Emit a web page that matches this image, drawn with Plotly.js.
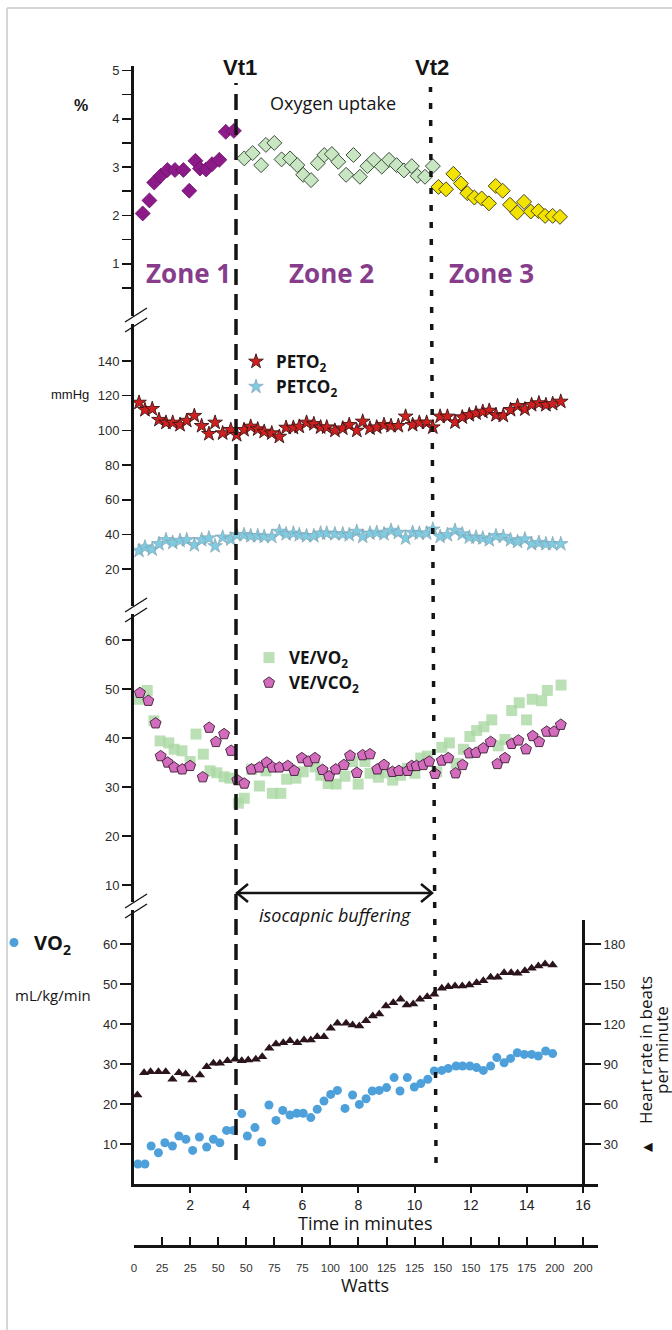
<!DOCTYPE html>
<html><head><meta charset="utf-8">
<script src="https://cdn.plot.ly/plotly-3.0.1.min.js"></script>
<style>html,body{margin:0;padding:0;background:#fff;overflow:hidden}#chart{width:672px;height:1330px}</style>
</head><body><div id="chart"></div>
<script>
// ---------- DATA ----------
// Panel 1: oxygen uptake (%) by zone
const zone1Time = [0.31,0.55,0.72,0.95,1.19,1.46,1.76,1.97,2.19,2.35,2.57,2.78,3.04,3.27,3.56];
const zone1O2   = [2.04,2.31,2.68,2.82,2.94,2.94,2.94,2.51,3.13,2.97,2.95,3.06,3.15,3.73,3.75];
const zone2Time = [3.93,4.23,4.53,4.70,5.00,5.26,5.56,5.82,6.03,6.31,6.55,6.78,7.05,7.28,7.56,7.82,8.05,8.32,8.55,8.83,9.09,9.36,9.62,9.90,10.10,10.37,10.65];
const zone2O2   = [3.18,3.29,3.04,3.46,3.50,3.16,3.18,3.04,2.84,2.73,3.08,3.25,3.27,3.11,2.84,3.25,2.80,3.02,3.15,3.01,3.15,3.04,2.93,3.02,2.82,2.80,3.02];
const zone3Time = [10.85,11.12,11.38,11.65,11.88,12.13,12.39,12.65,12.89,13.14,13.40,13.66,13.90,14.14,14.41,14.65,14.92,15.18];
const zone3O2   = [2.59,2.54,2.86,2.66,2.46,2.37,2.35,2.25,2.61,2.51,2.22,2.06,2.28,2.08,2.09,1.99,1.99,1.97];

// Panel 2: end-tidal pressures (mmHg)
const petTime = [0.18,0.39,0.65,0.89,1.14,1.38,1.64,1.88,2.15,2.41,2.67,2.89,3.16,3.45,3.66,3.92,4.16,4.41,4.64,4.91,5.18,5.42,5.68,5.89,6.15,6.41,6.65,6.87,7.16,7.44,7.67,7.94,8.15,8.41,8.65,8.91,9.16,9.42,9.68,9.93,10.17,10.43,10.65,10.91,11.17,11.44,11.70,11.95,12.19,12.43,12.66,12.90,13.16,13.42,13.67,13.93,14.17,14.43,14.68,14.92,15.21];
const petO2  = [116.0,111.8,112.4,106.1,104.5,104.5,103.2,105.6,108.4,102.6,98.0,104.5,98.4,100.3,97.4,100.3,102.2,100.7,99.3,98.4,96.4,101.6,101.6,102.2,104.5,103.7,101.8,101.8,99.9,101.2,103.2,99.9,105.1,101.2,101.8,103.2,102.6,102.6,108.0,103.2,104.5,104.5,101.8,108.0,108.0,104.7,107.6,108.9,109.9,110.8,111.4,108.9,108.5,111.8,114.1,112.2,114.7,115.7,114.7,115.3,116.6];
const petCO2 = [30.7,32.7,31.5,34.6,36.9,35.3,36.5,36.9,34.0,36.9,37.9,33.4,38.4,37.3,39.8,39.8,39.2,39.2,38.8,38.8,41.7,40.3,40.7,39.8,39.2,39.2,40.7,40.7,40.3,40.3,39.8,41.7,38.8,40.7,41.1,40.3,42.3,41.1,37.9,41.1,40.7,40.7,43.0,38.8,39.8,42.3,40.3,38.4,38.4,37.9,36.9,39.2,38.8,36.9,35.9,37.3,34.6,35.3,34.6,34.6,34.6];

// Panel 3: ventilatory equivalents
const veVo2Time = [0.19,0.47,0.71,0.93,1.24,1.43,1.71,2.00,2.21,2.47,2.71,2.95,3.21,3.42,3.72,3.93,4.19,4.47,4.70,4.93,5.23,5.44,5.77,6.03,6.45,6.66,6.92,7.20,7.52,7.79,7.99,8.23,8.41,8.71,8.94,9.22,9.50,9.74,10.01,10.22,10.45,10.79,10.97,11.24,11.48,11.74,11.97,12.21,12.47,12.75,12.98,13.22,13.46,13.73,13.99,14.19,14.53,14.73,15.22];
const veVo2 = [47.9,49.7,43.5,39.4,39.0,37.7,37.4,35.2,40.8,36.7,33.3,32.9,32.1,31.8,26.7,27.7,33.6,30.2,33.3,28.7,28.7,31.6,31.8,33.1,34.1,32.4,30.7,30.6,32.2,35.2,30.6,35.2,32.8,32.0,32.9,31.4,32.4,33.8,32.8,35.9,36.3,33.1,38.1,39.0,34.8,37.7,40.3,41.5,42.3,43.7,38.4,39.7,45.6,47.2,43.7,47.9,47.6,49.7,50.8];
const veVco2Time = [0.21,0.51,0.77,0.95,1.20,1.43,1.72,2.00,2.45,2.68,2.92,3.21,3.46,3.68,3.93,4.19,4.47,4.73,4.94,5.18,5.48,5.71,5.98,6.21,6.45,6.72,6.95,7.19,7.48,7.70,7.94,8.15,8.41,8.67,8.91,9.21,9.44,9.75,9.90,10.07,10.31,10.52,10.73,10.97,11.20,11.46,11.71,11.95,12.19,12.45,12.71,12.95,13.22,13.46,13.70,13.97,14.21,14.44,14.71,14.97,15.21];
const veVco2 = [49.2,47.6,43.0,36.3,35.0,34.0,33.6,34.3,32.0,42.1,39.2,40.8,37.4,31.4,30.7,33.6,34.0,35.0,34.0,34.0,34.3,33.3,35.9,35.2,35.9,33.5,32.2,33.6,34.5,36.4,32.9,36.5,36.7,33.6,34.5,33.1,33.3,33.3,34.3,34.3,34.5,35.2,32.7,35.4,35.9,32.8,34.5,36.9,37.0,37.9,39.2,34.7,35.9,38.8,39.5,37.7,40.4,39.2,41.3,41.3,42.7];

// Panel 4: VO2 (mL/kg/min) and heart rate (bpm)
const vo2Time = [0.14,0.39,0.61,0.87,1.10,1.37,1.60,1.85,2.09,2.33,2.59,2.83,3.06,3.30,3.54,3.84,4.04,4.31,4.55,4.81,5.06,5.30,5.56,5.80,6.03,6.30,6.53,6.77,7.01,7.25,7.52,7.79,8.03,8.27,8.49,8.74,9.00,9.27,9.48,9.74,9.99,10.22,10.47,10.70,10.97,11.20,11.48,11.71,11.97,12.21,12.45,12.71,12.93,13.19,13.42,13.66,13.91,14.17,14.41,14.67,14.92];
const vo2 = [5.0,5.0,9.5,7.8,10.3,9.5,12.0,11.2,8.4,11.75,9.25,11.2,10.3,13.4,13.4,17.6,12.0,14.1,10.5,19.75,15.9,18.4,17.25,17.7,17.7,16.6,18.7,20.75,22.4,23.4,18.9,22.25,19.9,21.3,23.25,23.4,24.1,26.6,23.25,26.6,24.25,25.1,26.2,28.25,28.4,28.9,29.5,29.5,29.5,29.1,28.4,29.5,31.6,30.3,31.4,32.8,32.4,32.4,32.0,33.25,32.6];
const hrTime = [0.12,0.36,0.59,0.87,1.13,1.37,1.60,1.84,2.08,2.35,2.59,2.83,3.06,3.33,3.60,3.84,4.07,4.34,4.57,4.82,5.06,5.32,5.56,5.82,6.06,6.30,6.53,6.77,7.01,7.25,7.56,7.79,8.03,8.27,8.51,8.74,8.98,9.24,9.50,9.72,9.95,10.19,10.45,10.70,10.97,11.20,11.44,11.70,11.95,12.21,12.45,12.71,12.96,13.19,13.44,13.67,13.93,14.17,14.41,14.65,14.92];
const hr = [66.75,83.5,84.2,84.2,84.2,78.5,83.5,82.5,78.0,81.75,88.0,90.5,90.5,92.5,93.5,92.5,93.0,93.5,95.5,101.8,105,106,107.5,106,108,108,110.5,110.5,116.8,120.5,120.5,119.3,118.5,122.5,126,127.5,133.5,136,138.5,134.3,135,138.5,140.5,142.3,146.8,148,148.5,148.5,149.3,151,152.5,155,155,158.5,158.5,158,160,161.75,163.5,165,164.3];

// Axis ticks
const timeTicks = [2,4,6,8,10,12,14,16];
const wattMinutes = [0,1,2,3,4,5,6,7,8,9,10,11,12,13,14,15,16];
const wattLabels = ["0","25","25","50","50","75","75","100","100","125","125","150","150","175","175","200","200"];
const pctTicks = [1,2,3,4,5];
const mmHgTicks = [20,40,60,80,100,120,140];
const veTicks = [10,20,30,40,50,60];
const vo2Ticks = [10,20,30,40,50,60];
const hrTicks = [30,60,90,120,150,180];
const vt1 = 3.635, vt2Top = 10.567, vt2Bottom = 10.763;

// ---------- LAYOUT HELPERS ----------
const W = 672, H = 1330;
const px = x => x / W;
const py = y => (H - y) / H;
const TICKFONT = {family: 'Liberation Sans, Arial, sans-serif', size: 13, color: '#2b2b2b'};
const INK = '#141414';

function yAx(top, bottom, range, ticks, extra) {
  return Object.assign({
    domain: [py(bottom), py(top)], range: range, anchor: 'x',
    tickvals: ticks, ticks: 'outside', ticklen: 9, tickwidth: 1.6, tickcolor: INK,
    showline: true, linewidth: 3, linecolor: INK, showgrid: false, zeroline: false,
    tickfont: TICKFONT, fixedrange: true
  }, extra || {});
}

const traces = [
  {x: zone1Time, y: zone1O2, xaxis: 'x', yaxis: 'y', mode: 'markers', showlegend: false,
   marker: {symbol: 'diamond', size: 11.5, color: '#8c1a88', line: {color: '#6a1266', width: 0.8}}},
  {x: zone2Time, y: zone2O2, xaxis: 'x', yaxis: 'y', mode: 'markers', showlegend: false,
   marker: {symbol: 'diamond', size: 11.5, color: '#c8e6c2', line: {color: '#3e4e3e', width: 1}}},
  {x: zone3Time, y: zone3O2, xaxis: 'x', yaxis: 'y', mode: 'markers', showlegend: false,
   marker: {symbol: 'diamond', size: 11.5, color: '#f3e300', line: {color: '#4a4520', width: 1}}},

  {x: petTime, y: petO2, xaxis: 'x', yaxis: 'y2', mode: 'markers', name: '<b>PETO<sub>2</sub></b>', legend: 'legend',
   marker: {symbol: 'star', size: 11, color: '#cf1f1f', line: {color: '#3a1414', width: 0.9}}},
  {x: petTime, y: petCO2, xaxis: 'x', yaxis: 'y2', mode: 'markers', name: '<b>PETCO<sub>2</sub></b>', legend: 'legend',
   marker: {symbol: 'star', size: 11, color: '#7fcbe2', line: {color: '#7f9aa6', width: 0.6}}},

  {x: veVo2Time, y: veVo2, xaxis: 'x', yaxis: 'y3', mode: 'markers', name: '<b>VE/VO<sub>2</sub></b>', legend: 'legend2',
   marker: {symbol: 'square', size: 11, color: 'rgba(170,216,164,0.8)', line: {width: 0}}},
  {x: veVco2Time, y: veVco2, xaxis: 'x', yaxis: 'y3', mode: 'markers', name: '<b>VE/VCO<sub>2</sub></b>', legend: 'legend2',
   marker: {symbol: 'pentagon', size: 11.5, color: '#d46cbd', line: {color: '#3a1e32', width: 0.9}}},

  {x: hrTime, y: hr, xaxis: 'x', yaxis: 'y5', mode: 'markers', showlegend: false,
   marker: {symbol: 'triangle-up', size: 9, color: '#2b141c', line: {width: 0}}},
  {x: vo2Time, y: vo2, xaxis: 'x', yaxis: 'y4', mode: 'markers', name: '<b>VO<sub>2</sub></b>', legend: 'legend3',
   marker: {symbol: 'circle', size: 9, color: '#4ea0db', line: {width: 0}}},

  {x: [wattMinutes[0]], y: [null], xaxis: 'x2', yaxis: 'y4', mode: 'markers', showlegend: false, hoverinfo: 'skip'}
];

// Shapes
const shapes = [];
// frame
shapes.push({type: 'line', xref: 'paper', yref: 'paper', x0: px(7), x1: px(672), y0: py(8), y1: py(8), line: {color: '#d6d6d6', width: 2}});
shapes.push({type: 'line', xref: 'paper', yref: 'paper', x0: px(7), x1: px(7), y0: py(8), y1: py(1330), line: {color: '#d6d6d6', width: 2}});
// threshold lines
shapes.push({type: 'line', xref: 'x', yref: 'paper', x0: vt1, x1: vt1, y0: py(1160), y1: py(83), line: {color: INK, width: 3.5, dash: '16px,9px'}});
shapes.push({type: 'line', xref: 'x', yref: 'paper', x0: vt2Bottom, x1: vt2Top, y0: py(1163), y1: py(87), line: {color: INK, width: 3.5, dash: '6px,11px'}});
// isocapnic buffering arrow
shapes.push({type: 'line', xref: 'paper', yref: 'paper', x0: px(238), x1: px(431), y0: py(893), y1: py(893), line: {color: INK, width: 2.5}});
shapes.push({type: 'path', xref: 'paper', yref: 'paper', path: `M${px(248)},${py(884)} L${px(237)},${py(893)} L${px(248)},${py(902)}`, line: {color: INK, width: 2.5}});
shapes.push({type: 'path', xref: 'paper', yref: 'paper', path: `M${px(421)},${py(884)} L${px(432)},${py(893)} L${px(421)},${py(902)}`, line: {color: INK, width: 2.5}});
// axis breaks
[320, 610, 906].forEach(c => {
  shapes.push({type: 'rect', xref: 'paper', yref: 'paper', x0: px(131), x1: px(140), y0: py(c + 4), y1: py(c - 4), line: {width: 0}, fillcolor: '#ffffff'});
  shapes.push({type: 'line', xref: 'paper', yref: 'paper', x0: px(125), x1: px(147), y0: py(c + 12), y1: py(c - 2), line: {color: INK, width: 1.4}});
  shapes.push({type: 'line', xref: 'paper', yref: 'paper', x0: px(125), x1: px(147), y0: py(c + 2), y1: py(c - 12), line: {color: INK, width: 1.4}});
});

function ann(text, x, y, font, extra) {
  return Object.assign({text: text, xref: 'paper', yref: 'paper', x: px(x), y: py(y), xanchor: 'center', yanchor: 'middle', showarrow: false, font: font}, extra || {});
}
const OS = 'Open Sans, Liberation Sans, sans-serif';
const ZONE = {family: OS, size: 26, color: '#873c8c'};
const annotations = [
  ann('<b>Vt1</b>', 240, 68, {family: 'Liberation Sans, Arial', size: 22, color: INK}),
  ann('<b>Vt2</b>', 432, 68, {family: 'Liberation Sans, Arial', size: 22, color: INK}),
  ann('Oxygen uptake', 333, 103, {family: OS, size: 18, color: INK}),
  ann('<b>%</b>', 81, 106, {family: 'Liberation Sans, Arial', size: 16, color: INK}),
  ann('<b>Zone 1</b>', 188, 273, ZONE),
  ann('<b>Zone 2</b>', 331, 273, ZONE),
  ann('<b>Zone 3</b>', 492, 273, ZONE),
  ann('mmHg', 70, 395, {family: 'Liberation Sans, Arial', size: 13, color: INK}),
  ann('<i>isocapnic buffering</i>', 335, 915, {family: OS, size: 18, color: INK}),
  ann('mL/kg/min', 53, 995, {family: OS, size: 15, color: INK}),
  ann('Heart rate in beats', 645, 1050, {family: OS, size: 17, color: INK}, {textangle: -90}),
  ann('per minute', 661, 1050, {family: OS, size: 17, color: INK}, {textangle: -90}),
  ann('▲', 647, 1147, {family: 'DejaVu Sans', size: 12, color: INK}, {textangle: -90}),
  ann('Time in minutes', 365, 1223, {family: OS, size: 18, color: INK}),
  ann('Watts', 365, 1285, {family: OS, size: 18, color: INK})
];

const legendBase = {xanchor: 'left', yanchor: 'top', bgcolor: 'rgba(0,0,0,0)', borderwidth: 0, itemwidth: 30, tracegroupgap: 0, itemclick: false, itemdoubleclick: false};

const layout = {
  width: W, height: H, margin: {l: 0, r: 0, t: 0, b: 0, pad: 0, autoexpand: false},
  paper_bgcolor: '#ffffff', plot_bgcolor: 'rgba(0,0,0,0)',
  showlegend: true,
  xaxis: {domain: [px(134), px(598)], range: [0, 16.536], anchor: 'y4', tickvals: timeTicks,
    ticks: 'outside', ticklen: 6, tickwidth: 2, tickcolor: INK, showline: true, linewidth: 3, linecolor: INK,
    showgrid: false, zeroline: false, tickfont: {family: 'Liberation Sans, Arial', size: 14, color: '#222'}, fixedrange: true},
  xaxis2: {overlaying: 'x', anchor: 'free', position: py(1246), side: 'bottom', domain: [px(134), px(598)], range: [0, 16.536],
    tickvals: wattMinutes, ticktext: wattLabels, ticks: 'inside', ticklen: 8, tickwidth: 2, tickcolor: INK,
    showline: true, linewidth: 3, linecolor: INK, showgrid: false, zeroline: false, ticklabelstandoff: 10,
    tickfont: {family: 'Liberation Sans, Arial', size: 11.5, color: '#333'}, fixedrange: true},
  yaxis: yAx(66, 312, [0, 5.093], pctTicks, {minor: {tickvals: [0.5,1.5,2.5,3.5,4.5], ticks: 'outside', ticklen: 9, tickwidth: 1.6, tickcolor: INK, showgrid: false}}),
  yaxis2: yAx(312, 605, [-0.58, 168.2], mmHgTicks),
  yaxis3: yAx(605, 900, [6.94, 67.14], veTicks),
  yaxis4: yAx(900, 1184, [0, 71], vo2Ticks, {ticklen: 11, tickwidth: 2}),
  yaxis5: yAx(920, 1184, [0, 198], hrTicks, {anchor: 'free', position: px(583), side: 'right', ticklen: 16, tickwidth: 2.5}),
  legend: Object.assign({}, legendBase, {x: px(236), y: py(344), font: {family: OS, size: 17, color: INK}}),
  legend2: Object.assign({}, legendBase, {x: px(249), y: py(640), font: {family: OS, size: 17, color: INK}}),
  legend3: Object.assign({}, legendBase, {x: px(-6), y: py(923), font: {family: OS, size: 20, color: INK}}),
  shapes: shapes,
  annotations: annotations
};

Plotly.newPlot('chart', traces, layout, {displayModeBar: false, staticPlot: true});
</script></body></html>
